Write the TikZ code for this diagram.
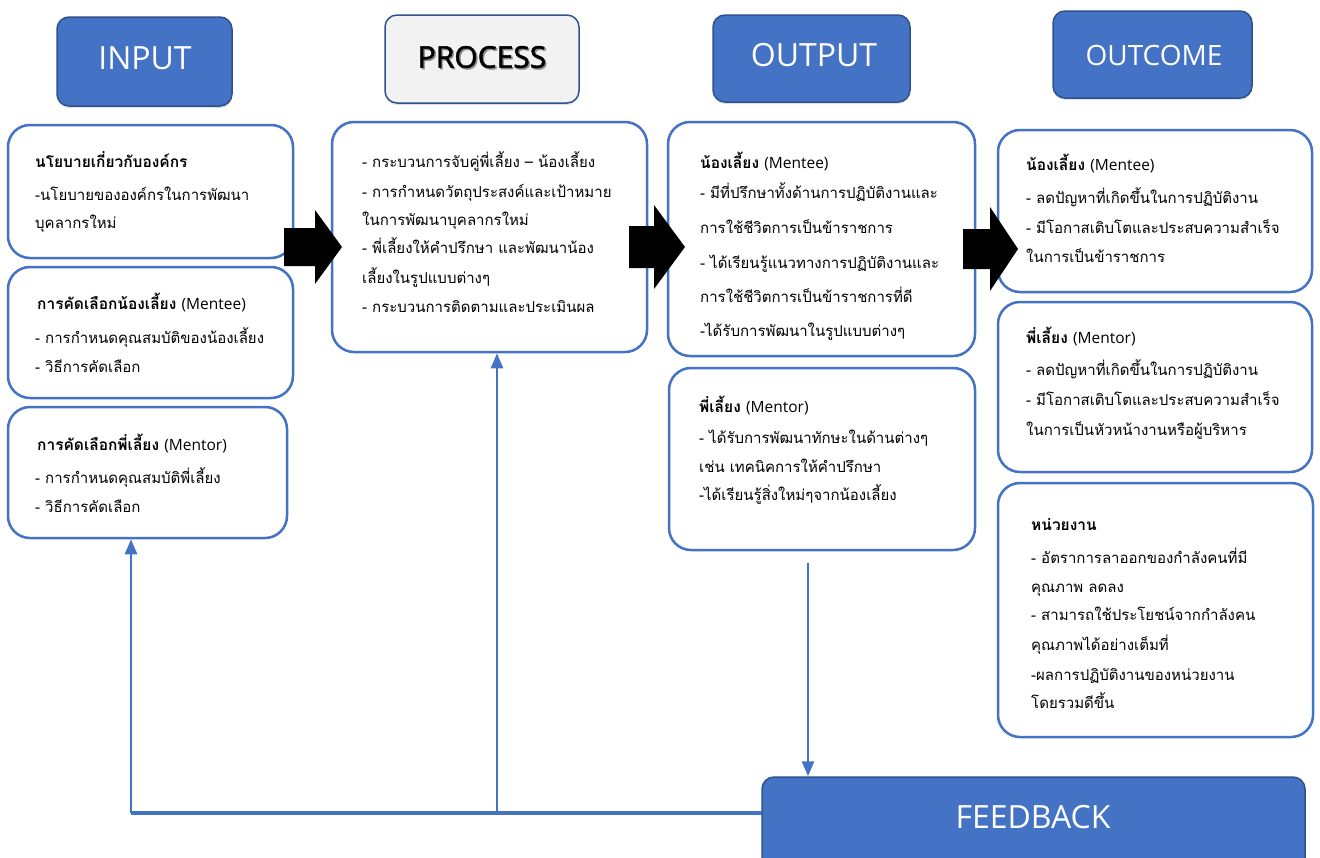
\documentclass[tikz,border=0pt]{standalone}
\usepackage{fontspec}
\setmainfont{Open Sans}
\newfontfamily\thai[Script=Thai]{Loma}
\newfontfamily\latf{Open Sans}
\newfontfamily\latfb[FakeBold=1.6]{Open Sans}
\newcommand\engl[1]{{\latf\mdseries #1}}
\usetikzlibrary{arrows.meta,shadows}
\definecolor{bl}{HTML}{4472C4}
\definecolor{dbl}{HTML}{2F528F}
\definecolor{lg}{HTML}{F2F2F2}
\begin{document}
\begin{tikzpicture}[x=1pt,y=-1pt,
 hdr/.style={draw=dbl,line width=1.5pt,fill=bl,rounded corners=12pt,inner sep=0pt,
   drop shadow={opacity=0.25,shadow xshift=0pt,shadow yshift=-2pt}},
 htxt/.style={text=white,font=\latf\fontsize{32}{38}\selectfont,inner sep=0pt},
 box/.style={draw=bl,line width=2.5pt,fill=white,rounded corners=22pt,inner sep=0pt},
 ln/.style={anchor=base west,inner sep=0pt,font=\thai\fontsize{15}{18}\selectfont},
 hd/.style={anchor=base west,inner sep=0pt,font=\thai\bfseries\fontsize{15.5}{18}\selectfont},
 conn/.style={draw=bl,line width=2.5pt},
 tip/.style={-{Triangle[length=15pt,width=12pt]}},
 blk/.style={fill=black}]
\useasboundingbox (0,0) rectangle (1320,857);
\fill[white] (0,0) rectangle (1320,857);

% headers
\node[hdr,minimum width=175pt,minimum height=89pt] (hin) at (144.5,61.5) {};
\node[htxt] (hint) at (145,58) {INPUT};
\node[hdr,fill=lg,minimum width=194pt,minimum height=88pt] (hpr) at (482,59) {};
\node[htxt,text=black!45,font=\latfb\fontsize{30}{36}\selectfont] (hprs) at (483.5,58.5) {PROCESS};
\node[htxt,text=black,font=\latfb\fontsize{30}{36}\selectfont] (hprt) at (482,57) {PROCESS};
\node[hdr,minimum width=197pt,minimum height=87pt] (hout) at (811.5,58.5) {};
\node[htxt] (houtt) at (814,55) {OUTPUT};
\node[hdr,minimum width=199pt,minimum height=87pt] (hoc) at (1152.5,54.5) {};
\node[htxt,font=\latf\fontsize{28}{32}\selectfont] (hoct) at (1154,55) {OUTCOME};

% content boxes
\node[box,minimum width=285pt,minimum height=133pt] (in1) at (150.5,191.5) {};
\node[box,minimum width=285pt,minimum height=131pt] (in2) at (150.5,332.5) {};
\node[box,minimum width=279pt,minimum height=131pt] (in3) at (147.5,472.5) {};
\node[box,minimum width=315pt,minimum height=230pt] (proc) at (489.5,237) {};
\node[box,minimum width=307pt,minimum height=234pt] (out1) at (821.5,239) {};
\node[box,minimum width=306pt,minimum height=182pt] (out2) at (822,459) {};
\node[box,minimum width=314pt,minimum height=162pt] (oc1) at (1155,211) {};
\node[box,minimum width=314pt,minimum height=170pt] (oc2) at (1155,387) {};
\node[box,minimum width=315pt,minimum height=254pt] (oc3) at (1155.5,610) {};

% feedback
\node[hdr,minimum width=543pt,minimum height=123pt] (fb) at (1033.5,838.5) {};
\node[htxt] (fbt) at (1033,817) {FEEDBACK};

% block arrows
\fill[blk] (284,228) -- (315,228) -- (315,210) -- (342,247) -- (315,284) -- (315,266) -- (284,266) -- cycle;
\fill[blk] (629,226) -- (654,226) -- (654,205) -- (685,247) -- (654,289) -- (654,268) -- (629,268) -- cycle;
\fill[blk] (963,229) -- (990,229) -- (990,207) -- (1018,249) -- (990,291) -- (990,269) -- (963,269) -- cycle;

% connectors
\coordinate (o2s) at (808,563);
\coordinate (fbw) at (762,813);
\coordinate (cnr) at (131,813);
\coordinate (jn) at (497,813);
\draw[conn,tip] (o2s) -- (o2s |- fb.north);
\draw[conn,line width=3.5pt] (fbw) -- (cnr);
\draw[conn,tip] (cnr) -- (cnr |- in3.south);
\draw[conn,tip] (jn) -- (jn |- proc.south);

% input texts
\node[hd] (i1h) at (35,167) {นโยบายเกี่ยวกับองค์กร};
\node[ln] (i1a) at (35,200) {-นโยบายขององค์กรในการพัฒนา};
\node[ln] (i1b) at (35,228) {บุคลากรใหม่};
\node[hd] (i2h) at (37,309) {การคัดเลือกน้องเลี้ยง \engl{(Mentee)}};
\node[ln] (i2a) at (35,343) {- การกำหนดคุณสมบัติของน้องเลี้ยง};
\node[ln] (i2b) at (35,372) {- วิธีการคัดเลือก};
\node[hd] (i3h) at (37,450) {การคัดเลือกพี่เลี้ยง \engl{(Mentor)}};
\node[ln] (i3a) at (35,483) {- การกำหนดคุณสมบัติพี่เลี้ยง};
\node[ln] (i3b) at (35,512) {- วิธีการคัดเลือก};

% process texts
\node[ln] (p1) at (362,167) {- กระบวนการจับคู่พี่เลี้ยง – น้องเลี้ยง};
\node[ln] (p2) at (362,197) {- การกำหนดวัตถุประสงค์และเป้าหมาย};
\node[ln] (p3) at (362,225) {ในการพัฒนาบุคลากรใหม่};
\node[ln] (p4) at (362,253) {- พี่เลี้ยงให้คำปรึกษา และพัฒนาน้อง};
\node[ln] (p5) at (362,283) {เลี้ยงในรูปแบบต่างๆ};
\node[ln] (p6) at (362,312) {- กระบวนการติดตามและประเมินผล};

% output texts
\node[hd] (o1h) at (700,168) {น้องเลี้ยง \engl{(Mentee)}};
\node[ln] (o1a) at (700,198) {- มีที่ปรึกษาทั้งด้านการปฏิบัติงานและ};
\node[ln] (o1b) at (700,233) {การใช้ชีวิตการเป็นข้าราชการ};
\node[ln] (o1c) at (700,268) {- ได้เรียนรู้แนวทางการปฏิบัติงานและ};
\node[ln] (o1d) at (700,302) {การใช้ชีวิตการเป็นข้าราชการที่ดี};
\node[ln] (o1e) at (700,336) {-ได้รับการพัฒนาในรูปแบบต่างๆ};
\node[hd] (o2h) at (699,412) {พี่เลี้ยง \engl{(Mentor)}};
\node[ln] (o2a) at (699,443) {- ได้รับการพัฒนาทักษะในด้านต่างๆ};
\node[ln] (o2b) at (699,472) {เช่น เทคนิคการให้คำปรึกษา};
\node[ln] (o2c) at (699,500) {-ได้เรียนรู้สิ่งใหม่ๆจากน้องเลี้ยง};

% outcome texts
\node[hd] (c1h) at (1026,170) {น้องเลี้ยง \engl{(Mentee)}};
\node[ln] (c1a) at (1026,203) {- ลดปัญหาที่เกิดขึ้นในการปฏิบัติงาน};
\node[ln] (c1b) at (1026,233) {- มีโอกาสเติบโตและประสบความสำเร็จ};
\node[ln] (c1c) at (1026,262) {ในการเป็นข้าราชการ};
\node[hd] (c2h) at (1026,343) {พี่เลี้ยง \engl{(Mentor)}};
\node[ln] (c2a) at (1026,375) {- ลดปัญหาที่เกิดขึ้นในการปฏิบัติงาน};
\node[ln] (c2b) at (1026,405) {- มีโอกาสเติบโตและประสบความสำเร็จ};
\node[ln] (c2c) at (1026,435) {ในการเป็นหัวหน้างานหรือผู้บริหาร};
\node[hd] (c3h) at (1031,530) {หน่วยงาน};
\node[ln] (c3a) at (1031,563) {- อัตราการลาออกของกำลังคนที่มี};
\node[ln] (c3b) at (1031,592) {คุณภาพ ลดลง};
\node[ln] (c3c) at (1031,620) {- สามารถใช้ประโยชน์จากกำลังคน};
\node[ln] (c3d) at (1031,650) {คุณภาพได้อย่างเต็มที่};
\node[ln] (c3e) at (1031,680) {-ผลการปฏิบัติงานของหน่วยงาน};
\node[ln] (c3f) at (1031,708) {โดยรวมดีขึ้น};
\end{tikzpicture}
\end{document}
